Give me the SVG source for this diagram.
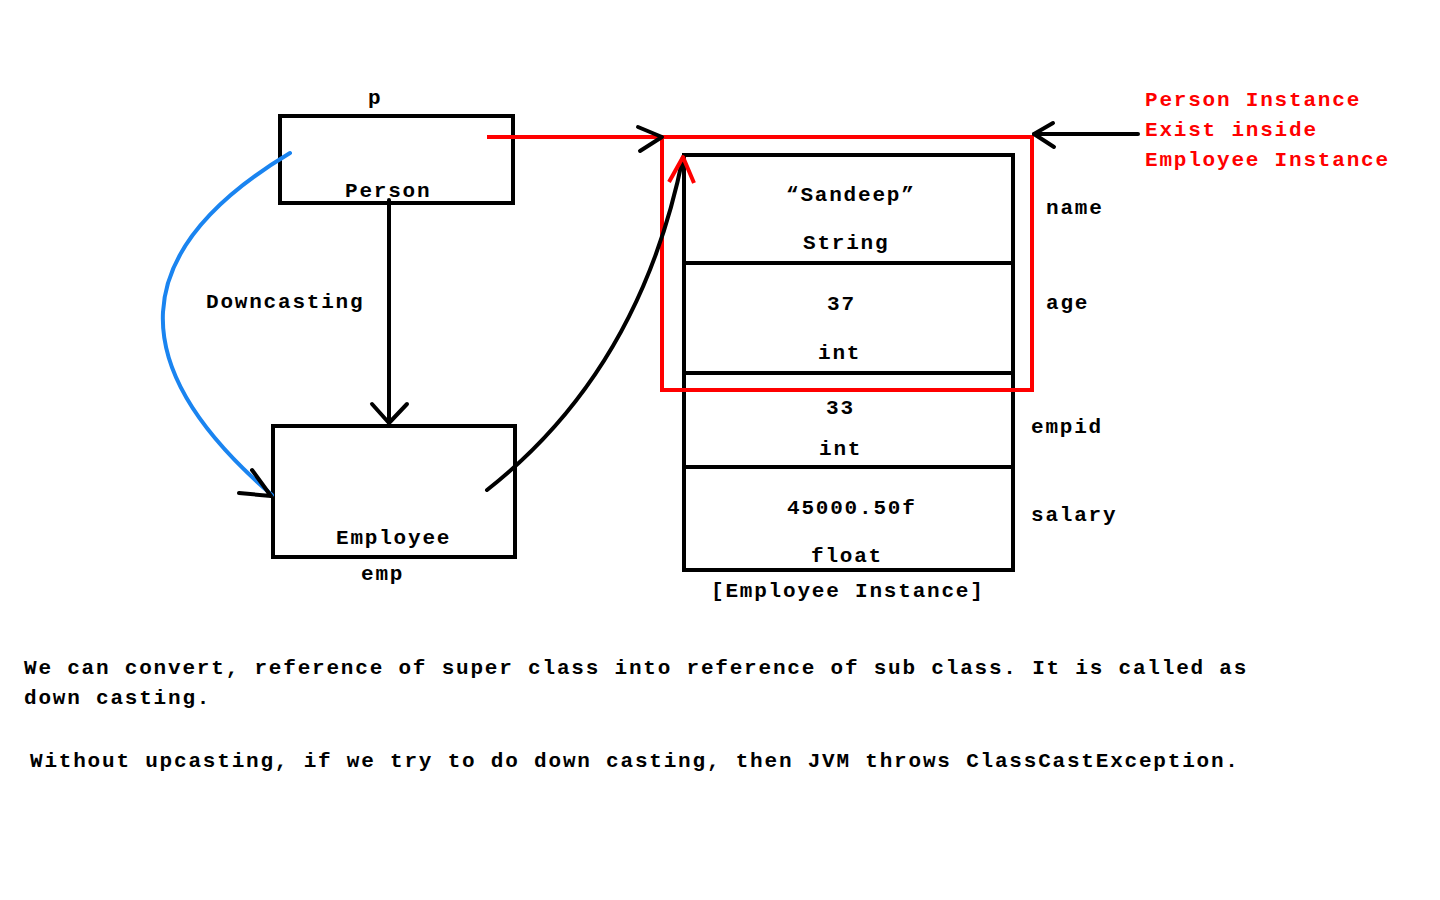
<svg xmlns="http://www.w3.org/2000/svg" width="1440" height="900" viewBox="0 0 1440 900">
<style>
text{font-family:"Liberation Mono","Courier New",monospace;font-weight:bold;font-size:21px;letter-spacing:1.8px;fill:#000}
.red{fill:#ff0000}
.box{fill:none;stroke:#000;stroke-width:4}
.ln{fill:none;stroke:#000;stroke-width:4;stroke-linecap:round;stroke-linejoin:round}
.rln{fill:none;stroke:#ff0000;stroke-width:4;stroke-linecap:butt;stroke-linejoin:miter}
.bln{fill:none;stroke:#1a84f0;stroke-width:4;stroke-linecap:round}
</style>
<rect width="1440" height="900" fill="#fff"/>
<g id="person-ref">
<text x="368" y="104">p</text>
<rect class="box" x="280" y="116" width="233" height="87"/>
<text x="345" y="197">Person</text>
</g>
<g id="employee-ref">
<rect class="box" x="273" y="426" width="242" height="131"/>
<text x="336" y="544">Employee</text>
<text x="361" y="580">emp</text>
</g>
<g id="employee-instance">
<rect class="box" x="684" y="155" width="329" height="415"/>
<line class="box" x1="684" y1="263" x2="1013" y2="263"/>
<line class="box" x1="684" y1="373" x2="1013" y2="373"/>
<line class="box" x1="684" y1="467" x2="1013" y2="467"/>
<text x="786" y="201">“Sandeep”</text>
<text x="803" y="249">String</text>
<text x="827" y="310">37</text>
<text x="818" y="359">int</text>
<text x="826" y="414">33</text>
<text x="819" y="455">int</text>
<text x="787" y="514">45000.50f</text>
<text x="811" y="562">float</text>
<text x="711" y="597">[Employee Instance]</text>
<text x="1046" y="214">name</text>
<text x="1046" y="309">age</text>
<text x="1031" y="433">empid</text>
<text x="1031" y="521">salary</text>
</g>
<g id="person-instance">
<rect class="rln" x="662" y="137" width="370" height="253"/>
<text class="red" x="1145" y="106">Person Instance</text>
<text class="red" x="1145" y="136">Exist inside</text>
<text class="red" x="1145" y="166">Employee Instance</text>
</g>
<g id="downcasting-label">
<text x="206" y="308">Downcasting</text>
</g>
<g id="connectors">
<line class="ln" x1="389" y1="200" x2="389" y2="423"/>
<polyline class="ln" points="372,404 389,423 407,404"/>
<path class="bln" d="M290,153 Q45,300 272,495"/>
<polyline class="ln" points="252,470 271,496 239,493"/>
<path class="ln" d="M487,490 Q640,370 683,157"/>
<polyline class="rln" points="669,182 683,157 694,183" style="stroke-linejoin:round"/>
<line class="rln" x1="487" y1="137" x2="662" y2="137"/>
<polyline class="ln" points="638,127 662,137 640,151"/>
<line class="ln" x1="1138" y1="134" x2="1034" y2="134"/>
<polyline class="ln" points="1053,123 1034,134 1054,147"/>
</g>
<g id="notes">
<text x="24" y="674">We can convert, reference of super class into reference of sub class. It is called as</text>
<text x="24" y="704">down casting.</text>
<text x="30" y="767">Without upcasting, if we try to do down casting, then JVM throws ClassCastException.</text>
</g>
</svg>
